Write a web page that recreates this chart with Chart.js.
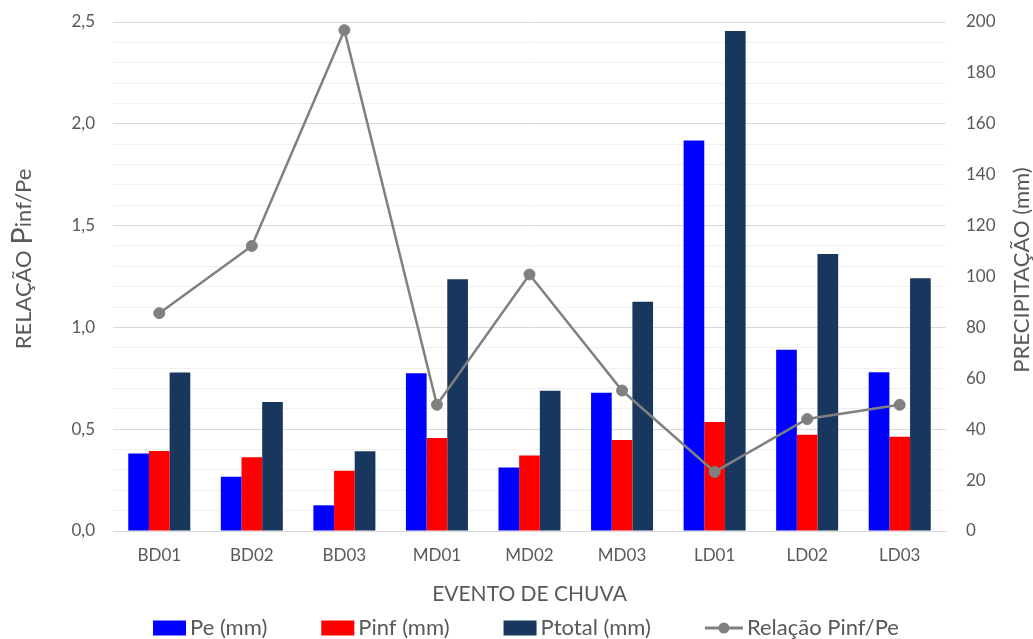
<!DOCTYPE html>
<html>
<head>
<meta charset="utf-8">
<script src="https://cdn.jsdelivr.net/npm/chart.js@4/dist/chart.umd.min.js"></script>
<style>
  html, body { margin: 0; padding: 0; background: #ffffff; }
  canvas { display: block; }
</style>
</head>
<body>
<canvas id="grafico" width="1033" height="639"></canvas>
<script>
// Eventos de chuva
const eventos = ['BD01', 'BD02', 'BD03', 'MD01', 'MD02', 'MD03', 'LD01', 'LD02', 'LD03'];

// Precipitação (mm)
const pe     = [30.5, 21.3, 10.1, 62.0, 25.0, 54.3, 153.4, 71.2, 62.4];
const pinf   = [31.4, 29.0, 23.7, 36.5, 29.7, 35.8, 42.8, 37.8, 37.0];
const ptotal = [62.3, 50.7, 31.3, 98.9, 55.1, 90.1, 196.5, 108.8, 99.3];

// Relação Pinf/Pe
const relacao = [1.07, 1.40, 2.46, 0.62, 1.26, 0.69, 0.29, 0.55, 0.62];

// Eixos
const relacaoEixo = [0, 2.5];       // mínimo, máximo (eixo esquerdo)
const relacaoPassoRotulo = 0.5;     // rótulos a cada 0,5
const relacaoPassoGrade = 0.1;      // linhas de grade a cada 0,1
const precipEixo = [0, 200];        // mínimo, máximo (eixo direito)
const precipPasso = 20;

const FONTE = 'Lato';
const COR_TEXTO = '#595959';
const COR_GRADE_MAIOR = '#d9d9d9';
const COR_GRADE_MENOR = '#f0f0f0';

const ehMultiplo = (v, passo) => Math.abs(v / passo - Math.round(v / passo)) < 1e-6;
const virgula = v => v.toFixed(1).replace('.', ',');

// Títulos dos eixos verticais (lidos de baixo para cima) e legenda
const extras = {
  id: 'extras',
  afterDraw(chart) {
    const ctx = chart.ctx;
    ctx.save();
    ctx.fillStyle = COR_TEXTO;
    ctx.textBaseline = 'middle';
    ctx.textAlign = 'left';

    // título esquerdo, com o "P" de Pinf em destaque
    const partes = [['RELAÇÃO ', 22], ['P', 29], ['inf/Pe', 22]];
    let total = 0;
    partes.forEach(([t, s]) => { ctx.font = s + 'px ' + FONTE; total += ctx.measureText(t).width; });
    ctx.save();
    ctx.translate(24, 259);
    ctx.rotate(-Math.PI / 2);
    let px = -total / 2;
    partes.forEach(([t, s]) => {
      ctx.font = s + 'px ' + FONTE;
      ctx.fillText(t, px, s > 22 ? -1 : 0);
      px += ctx.measureText(t).width;
    });
    ctx.restore();

    // título direito
    ctx.save();
    ctx.translate(1022, 270);
    ctx.rotate(-Math.PI / 2);
    ctx.font = '22px ' + FONTE;
    ctx.textAlign = 'center';
    ctx.fillText('PRECIPITAÇÃO (mm)', 0, 0);
    ctx.restore();

    // legenda
    ctx.font = '22px ' + FONTE;
    const yLeg = 628;
    const itens = chart.data.datasets.map(ds => {
      const linha = ds.type === 'line';
      const amostra = linha ? 38 : 33;
      return { ds, linha, amostra, largura: amostra + 4 + ctx.measureText(ds.label).width };
    });
    const espaco = 54;
    const larguraTotal = itens.reduce((a, it) => a + it.largura, 0) + espaco * (itens.length - 1);
    let x = 526 - larguraTotal / 2;
    itens.forEach(it => {
      if (it.linha) {
        ctx.strokeStyle = it.ds.borderColor;
        ctx.lineWidth = 3;
        ctx.beginPath();
        ctx.moveTo(x, yLeg);
        ctx.lineTo(x + it.amostra, yLeg);
        ctx.stroke();
        ctx.fillStyle = it.ds.pointBackgroundColor;
        ctx.beginPath();
        ctx.arc(x + it.amostra / 2, yLeg, 5.5, 0, Math.PI * 2);
        ctx.fill();
      } else {
        ctx.fillStyle = it.ds.backgroundColor;
        ctx.fillRect(x, yLeg - 7.5, it.amostra, 15);
      }
      ctx.fillStyle = COR_TEXTO;
      ctx.fillText(it.ds.label, x + it.amostra + 4, yLeg);
      x += it.largura + espaco;
    });
    ctx.restore();
  }
};

// margens verticais do eixo fixadas para que a área do gráfico comece no topo definido
const semMargemVertical = s => { s.paddingTop = 0; s.paddingBottom = 0; };

new Chart(document.getElementById('grafico'), {
  type: 'bar',
  data: {
    labels: eventos,
    datasets: [
      { label: 'Pe (mm)', data: pe, backgroundColor: '#0000ff', yAxisID: 'y1', order: 2 },
      { label: 'Pinf (mm)', data: pinf, backgroundColor: '#ff0000', yAxisID: 'y1', order: 2 },
      { label: 'Ptotal (mm)', data: ptotal, backgroundColor: '#17375e', yAxisID: 'y1', order: 2 },
      {
        type: 'line', label: 'Relação Pinf/Pe', data: relacao, yAxisID: 'y', order: 1,
        borderColor: '#808080', borderWidth: 2.5, tension: 0,
        pointRadius: 5.5, pointBackgroundColor: '#808080', pointBorderColor: '#808080', pointBorderWidth: 1
      }
    ]
  },
  options: {
    responsive: false,
    animation: false,
    events: [],
    layout: { padding: { top: 22, bottom: 24, left: 0, right: 0 } },
    datasets: { bar: { barPercentage: 1, categoryPercentage: 0.67 } },
    plugins: { legend: { display: false }, tooltip: { enabled: false } },
    scales: {
      x: {
        offset: true,
        grid: { display: false, drawTicks: false },
        border: { display: true, color: COR_GRADE_MAIOR, width: 1 },
        ticks: { color: COR_TEXTO, font: { family: FONTE, size: 17 }, padding: 14, maxRotation: 0 },
        title: { display: true, text: 'EVENTO DE CHUVA', color: COR_TEXTO, font: { family: FONTE, size: 21 }, padding: { top: 0, bottom: 8 } },
        afterFit: s => { s.height = 639 - 24 - 531; }
      },
      y: {
        position: 'left',
        min: relacaoEixo[0], max: relacaoEixo[1],
        grid: {
          drawTicks: false,
          color: c => ehMultiplo(c.tick.value, relacaoPassoRotulo) ? COR_GRADE_MAIOR : COR_GRADE_MENOR,
          lineWidth: 1
        },
        border: { display: false },
        ticks: {
          stepSize: relacaoPassoGrade, autoSkip: false,
          color: COR_TEXTO, font: { family: FONTE, size: 17 }, padding: 18,
          callback: v => ehMultiplo(v, relacaoPassoRotulo) ? virgula(v) : ''
        },
        afterFit: s => { s.width = 113; semMargemVertical(s); }
      },
      y1: {
        position: 'right',
        min: precipEixo[0], max: precipEixo[1],
        grid: { drawOnChartArea: false, drawTicks: false },
        border: { display: false },
        ticks: { stepSize: precipPasso, autoSkip: false, color: COR_TEXTO, font: { family: FONTE, size: 17 }, padding: 20 },
        afterFit: s => { s.width = 1033 - 946; semMargemVertical(s); }
      }
    }
  },
  plugins: [extras]
});
</script>
</body>
</html>
